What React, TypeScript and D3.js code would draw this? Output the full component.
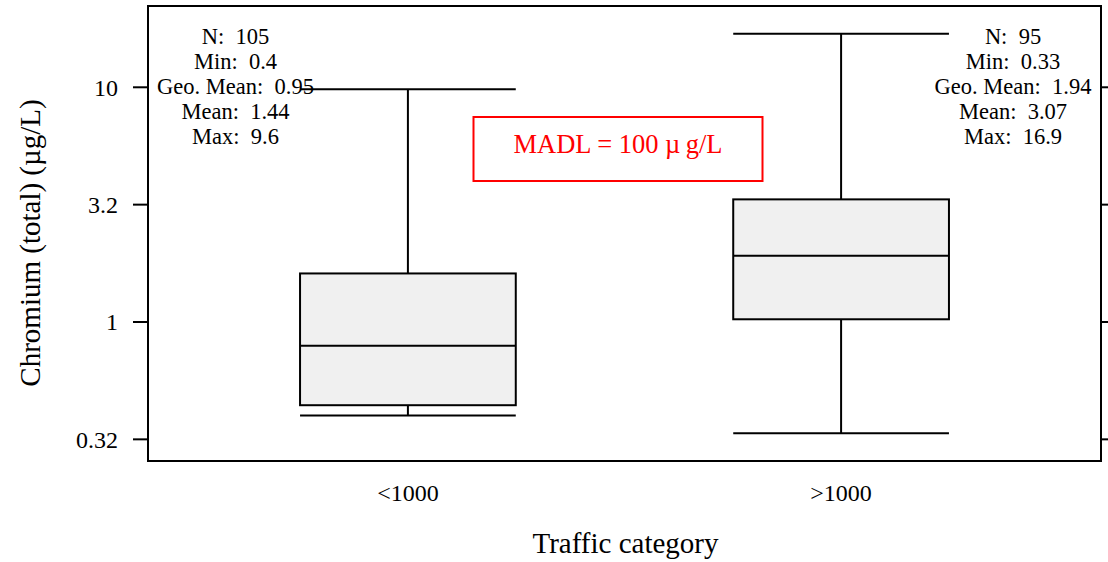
import React from 'react';
import * as d3 from 'd3';

// Chromium (total) by traffic category, log scale box plot
const categories = ['<1000', '>1000'];
const whiskerLow = [0.4, 0.336];
const q1 = [0.442, 1.027];
const median = [0.793, 1.917];
const q3 = [1.61, 3.33];
const whiskerHigh = [9.8, 16.9];

const statN = ['105', '95'];
const statMin = ['0.4', '0.33'];
const statGeoMean = ['0.95', '1.94'];
const statMean = ['1.44', '3.07'];
const statMax = ['9.6', '16.9'];

const yTicks = [Math.pow(10, -0.5), 1, Math.pow(10, 0.5), 10];
const yTickLabels = ['0.32', '1', '3.2', '10'];

const W = 1108;
const H = 562;
const FONT = '"Liberation Serif", "Times New Roman", serif';

export default function App() {
  const margin = { top: 6, right: 7, bottom: 101, left: 148 };
  const x0 = margin.left;
  const x1 = W - margin.right;
  const y0 = margin.top;
  const y1 = H - margin.bottom;

  const y = d3.scaleLog().domain([0.2557, 22.2]).range([y1, y0]);
  const x = d3.scalePoint<string>().domain(categories).range([x0, x1]).padding(0.6);
  const boxW = x.step() * 0.498;

  const statCenters = [235.5, 1013];
  const statLines = categories.map((_, i) => [
    `N:  ${statN[i]}`,
    `Min:  ${statMin[i]}`,
    `Geo. Mean:  ${statGeoMean[i]}`,
    `Mean:  ${statMean[i]}`,
    `Max:  ${statMax[i]}`,
  ]);

  return (
    <div style={{ position: 'absolute', left: 0, top: 0 }}>
      <svg width={W} height={H} style={{ display: 'block', background: '#fff' }} fontFamily={FONT}>
        {/* boxes */}
        {categories.map((c, i) => {
          const cx = x(c) as number;
          const l = cx - boxW / 2;
          const r = cx + boxW / 2;
          return (
            <g key={c} stroke="#000" strokeWidth={2} fill="none">
              <line x1={cx} x2={cx} y1={y(whiskerHigh[i])} y2={y(q3[i])} />
              <line x1={cx} x2={cx} y1={y(q1[i])} y2={y(whiskerLow[i])} />
              <line x1={l} x2={r} y1={y(whiskerHigh[i])} y2={y(whiskerHigh[i])} />
              <line x1={l} x2={r} y1={y(whiskerLow[i])} y2={y(whiskerLow[i])} />
              <rect x={l} y={y(q3[i])} width={boxW} height={y(q1[i]) - y(q3[i])} fill="#f0f0f0" />
              <line x1={l} x2={r} y1={y(median[i])} y2={y(median[i])} />
            </g>
          );
        })}

        {/* stats text */}
        {statLines.map((lines, i) => (
          <text key={i} fontSize={22.5} textAnchor="middle" fill="#000" style={{ whiteSpace: 'pre' }}>
            {lines.map((t, j) => (
              <tspan key={j} x={statCenters[i]} y={44 + j * 25}>{t}</tspan>
            ))}
          </text>
        ))}

        {/* MADL annotation */}
        <rect x={473.5} y={117} width={289} height={64} fill="none" stroke="#ff0000" strokeWidth={2} />
        <text x={618} y={153} fontSize={26.5} fill="#ff0000" textAnchor="middle" style={{ whiteSpace: 'pre' }}>MADL = 100 µ{'\u2009'}g/L</text>

        {/* frame */}
        <rect x={x0} y={y0} width={x1 - x0} height={y1 - y0} fill="none" stroke="#000" strokeWidth={2} />

        {/* y ticks left and right */}
        {yTicks.map((t, i) => (
          <g key={i}>
            <line x1={x0 - 15} x2={x0} y1={y(t)} y2={y(t)} stroke="#000" strokeWidth={2} />
            <line x1={x1} x2={x1 + 15} y1={y(t)} y2={y(t)} stroke="#000" strokeWidth={2} />
            <text x={118} y={y(t)} dy="0.35em" fontSize={24} textAnchor="end" fill="#000">{yTickLabels[i]}</text>
          </g>
        ))}

        {/* x tick labels */}
        {categories.map((c) => (
          <text key={c} x={x(c)} y={501} fontSize={24} textAnchor="middle" fill="#000">{c}</text>
        ))}

        {/* axis titles */}
        <text x={(x0 + x1) / 2 + 1} y={553} fontSize={29} textAnchor="middle" fill="#000">Traffic category</text>
        <text transform="translate(40,243) rotate(-90)" fontSize={29} textAnchor="middle" fill="#000">Chromium (total) (µg/L)</text>
      </svg>
    </div>
  );
}
